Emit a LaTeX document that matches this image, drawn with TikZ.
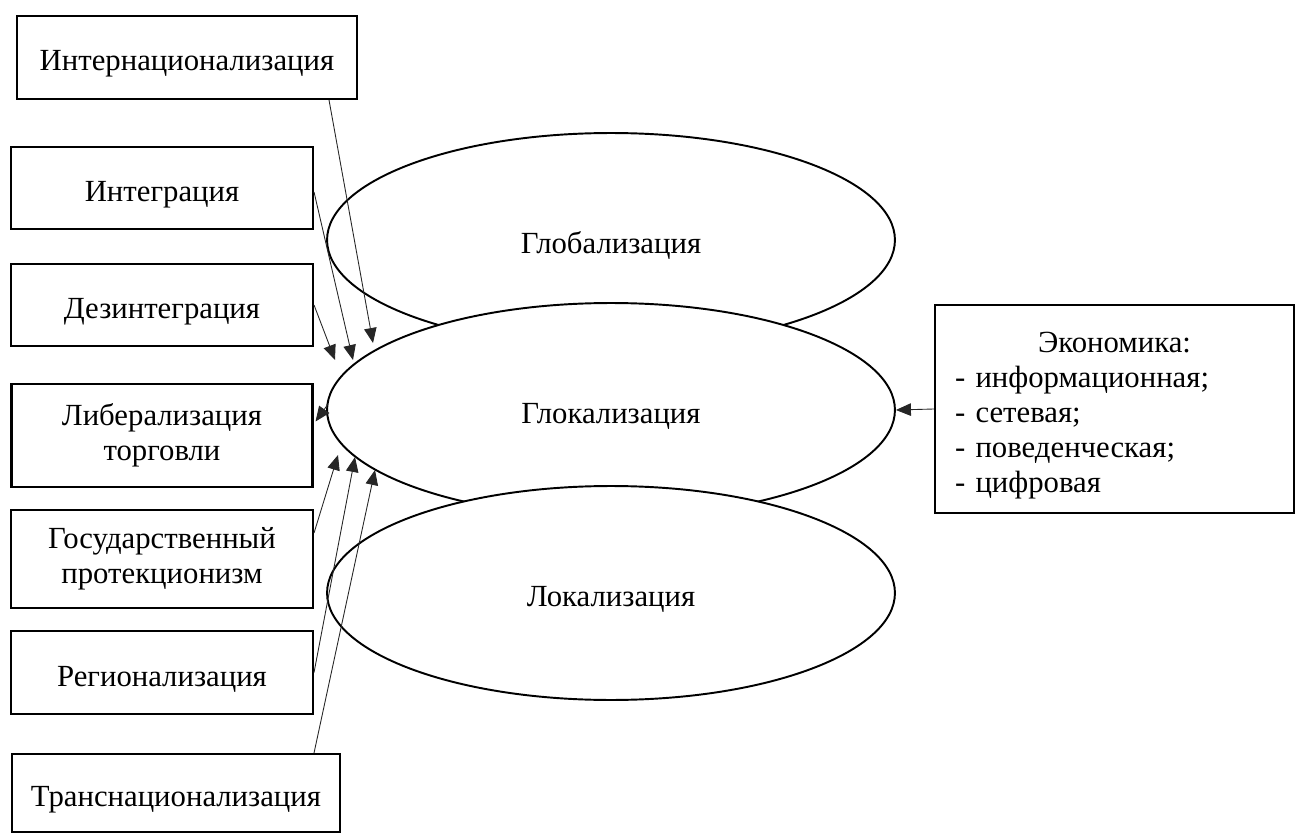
\documentclass[tikz,border=0pt]{standalone}
\usepackage{fontspec}
\setmainfont{Liberation Serif}
\usetikzlibrary{arrows.meta, shapes.geometric, calc}

\begin{document}
\begin{tikzpicture}[
      x=0.02cm, y=-0.02cm,
      font=\fontsize{17.5}{20}\selectfont,
      lowtext/.style={execute at begin node={\rule{0pt}{19pt}}},
      box/.style={rectangle, draw, line width=1.2pt, inner sep=0.2cm, align=center, lowtext},
      oval/.style={ellipse, draw, fill=white, line width=1.1pt, inner sep=0pt, minimum width=11.36cm, minimum height=4.28cm, lowtext},
      link/.style={-{Triangle[length=0.3cm, width=0.25cm]}, draw=black!85, line width=0.5pt}
    ]
    \useasboundingbox (0,0) rectangle (1296,835);

    % Levels
    \node[oval] (glob) at (611,240) {Глобализация};
    \node[oval] (gloc) at (611,410) {Глокализация};
    \node[oval] (loc) at (611,593) {Локализация};

    % Factors
    \node[box, minimum width=6.8cm, minimum height=1.66cm] (intern) at (187,57.5) {Интернационализация};
    \node[box, minimum width=6.04cm, minimum height=1.64cm] (integr) at (162,188) {Интеграция};
    \node[box, minimum width=6.04cm, minimum height=1.64cm] (dezint) at (162,305) {Дезинтеграция};
    \node[box, minimum width=6.02cm, minimum height=2.06cm] (liber) at (162,435.5) {Либерализация\\торговли};
    \node[box, minimum width=6.04cm, minimum height=1.96cm] (gosprot) at (162,559) {Государственный\\протекционизм};
    \node[box, minimum width=6.04cm, minimum height=1.66cm] (region) at (162,672.5) {Регионализация};
    \node[box, minimum width=6.56cm, minimum height=1.56cm] (transn) at (176,793) {Транснационализация};

    % Economy
    \node[box, text width=6.38cm, inner xsep=0.4cm, align=left, minimum height=4.16cm] (econ) at (1114.5,409)
      {\hfill Экономика:\hfill\null\\- информационная;\\- сетевая;\\- поведенческая;\\- цифровая};

    % Arrow ends
    \coordinate (t1) at (373,343);
    \coordinate (t2) at (353,360);
    \coordinate (t3) at (335,360);
    \coordinate (b1) at (338,455);
    \coordinate (b2) at (355,457);
    \coordinate (b3) at (375,470);

    % Connections
    \draw[link] ($(intern.south east)+(-29,0)$) -- (t1);
    \draw[link] ($(integr.east)+(0,4)$) -- (t2);
    \draw[link] (dezint.east) -- (t3);
    \draw[link] ($(gloc.west)+(2,-6)$) -- ($(liber.east)+(2,-14)$);
    \draw[link] ($(gosprot.east)+(0,-26)$) -- (b1);
    \draw[link] (region.east) -- (b2);
    \draw[link] ($(transn.north east)+(-27,0)$) -- (b3);
    \draw[link] (econ.west) -- (gloc.east);

\end{tikzpicture}
\end{document}
